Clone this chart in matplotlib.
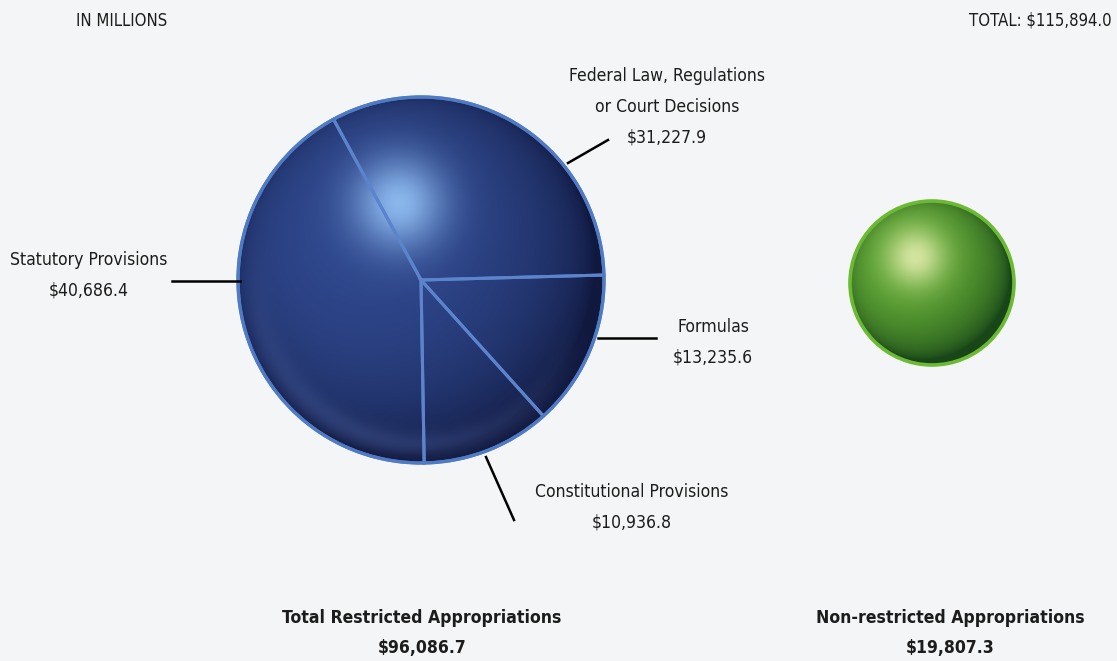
import numpy as np
import matplotlib
matplotlib.use("Agg")
from matplotlib import pyplot as plt
from matplotlib import font_manager
from matplotlib.patches import Circle

# restricted appropriations, in millions
categories = ["Constitutional Provisions", "Formulas",
              "Federal Law, Regulations\nor Court Decisions", "Statutory Provisions"]
amounts = [10936.8, 13235.6, 31227.9, 40686.4]
restricted_total = 96086.7
nonrestricted_total = 19807.3
grand_total = 115894.0

W, H = 1117, 661
BG = "#f4f5f6"
INK = "#1c1c1c"

# narrow face if the condensed DejaVu is around, otherwise shrink the normal one
cond = font_manager.FontProperties(family="DejaVu Sans", stretch="condensed")
HAS_COND = "Condensed" in font_manager.findfont(cond)
STRETCH = "condensed" if HAS_COND else "normal"
SCALE = 1.0 if HAS_COND else 0.82

LABEL_FS = 12.6 * SCALE
TITLE_FS = 12.6 * SCALE
CORNER_FS = 12 * SCALE


def money(v):
    return "${:,.1f}".format(v)


def spacing(fs, px):
    """linespacing factor giving roughly px pixels between baselines"""
    return px / (fs * 100 / 72 * 0.92)


def sphere_image(dark, base, light, hl_pos, hl_size, L, rim=None):
    """shaded ball as an rgb array"""
    n = 400
    u, v = np.meshgrid(np.linspace(-1, 1, n), np.linspace(-1, 1, n))
    rho = np.sqrt(u ** 2 + v ** 2)
    z = np.sqrt(np.clip(1 - rho ** 2, 0, 1))
    L = np.array(L) / np.linalg.norm(L)
    lam = np.clip(u * L[0] + v * L[1] + z * L[2], 0, 1)
    hl = np.exp(-(((u - hl_pos[0]) ** 2 + (v - hl_pos[1]) ** 2) / hl_size ** 2))
    dark, base, light = (np.array(c) / 255.0 for c in (dark, base, light))
    img = dark + (base - dark) * lam[..., None] ** 0.8
    img = img + (light - img) * hl[..., None]
    if rim is not None:
        # faint bounce light along the lower rim
        band = np.exp(-((rho - 0.9) / 0.07) ** 2) * np.clip(-v * 0.8 - u * 0.2, 0, 1)
        img = img + (np.array(rim) / 255.0 - img) * band[..., None] * 0.4
    return np.clip(img, 0, 1)


fig = plt.figure(figsize=(W / 100, H / 100), dpi=100, facecolor=BG)
ax = fig.add_axes([0, 0, 1, 1])

# big blue ball split into the restricted categories
cx, cy, r = 421, H - 280, 183
ax.pie(amounts, center=(cx, cy), radius=r, startangle=-89, counterclock=True,
       frame=True, wedgeprops=dict(facecolor="none", edgecolor="#5c84cc", linewidth=2.2,
                                   zorder=2))
ax.set_xlim(0, W)
ax.set_ylim(0, H)
ax.set_aspect("equal")
ax.axis("off")

img = sphere_image((16, 24, 62), (47, 72, 142), (138, 182, 236), (-0.12, 0.42), 0.25,
                   (-0.3, 0.3, 0.9), rim=(88, 112, 178))
im = ax.imshow(img, extent=(cx - r, cx + r, cy - r, cy + r), origin="lower", zorder=1)
im.set_clip_path(Circle((cx, cy), r, transform=ax.transData))
ax.add_patch(Circle((cx, cy), r, facecolor="none", edgecolor="#4f7ac4", lw=2.4, zorder=3))

# green ball for the non-restricted part
gx, gy, gr = 932, H - 283, 82
gimg = sphere_image((24, 70, 24), (96, 168, 52), (212, 228, 160), (-0.2, 0.32), 0.36,
                    (-0.3, 0.35, 0.88))
gim = ax.imshow(gimg, extent=(gx - gr, gx + gr, gy - gr, gy + gr), origin="lower", zorder=1)
gim.set_clip_path(Circle((gx, gy), gr, transform=ax.transData))
ax.add_patch(Circle((gx, gy), gr, facecolor="none", edgecolor="#6cba34", lw=2.6, zorder=3))
ax.set_xlim(0, W)
ax.set_ylim(0, H)

# leader lines (y measured from the top)
leaders = [((486, 457), (514, 520)),
           ((598, 338), (656, 338)),
           ((568, 163), (608, 140)),
           ((172, 281), (240, 281))]
for (x0, y0), (x1, y1) in leaders:
    ax.plot([x0, x1], [H - y0, H - y1], color="black", lw=1.8, zorder=4)

label_pos = [(632, 507), (713, 342), (667, 107), (89, 275)]
for name, val, (lx, ly) in zip(categories, amounts, label_pos):
    ax.text(lx, H - ly, name + "\n" + money(val), ha="center", va="center",
            fontsize=LABEL_FS, fontstretch=STRETCH, color=INK,
            linespacing=spacing(LABEL_FS, 31))

for x, title, val in [(422, "Total Restricted Appropriations", restricted_total),
                      (950, "Non-restricted Appropriations", nonrestricted_total)]:
    ax.text(x, H - 633, title + "\n" + money(val), ha="center", va="center",
            fontsize=TITLE_FS, fontweight="bold", fontstretch=STRETCH, color=INK,
            linespacing=spacing(TITLE_FS, 31))

ax.text(76, H - 21, "IN MILLIONS", ha="left", va="center", fontsize=CORNER_FS,
        fontstretch=STRETCH, color=INK)
ax.text(1112, H - 21, "TOTAL: " + money(grand_total), ha="right", va="center",
        fontsize=CORNER_FS, fontstretch=STRETCH, color=INK)

fig.savefig("out.png", dpi=100, facecolor=BG)
